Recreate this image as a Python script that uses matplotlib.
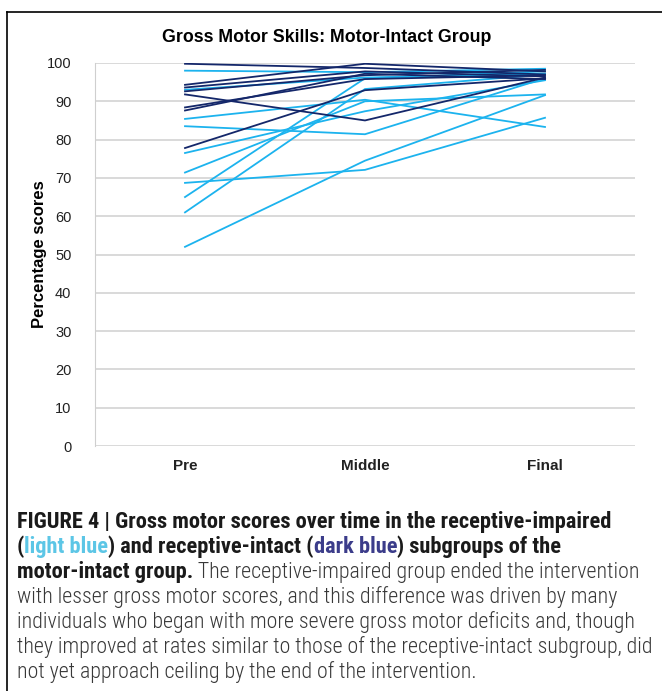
import matplotlib
matplotlib.use('Agg')
import matplotlib.pyplot as plt
from matplotlib import font_manager
from matplotlib.lines import Line2D

stages = ['Pre', 'Middle', 'Final']

# receptive-impaired subgroup (light blue), Pre / Middle / Final
light_scores = [
    [98.0, 97.6, 98.5],
    [93.0, 96.2, 97.2],
    [85.4, 90.4, 83.3],
    [83.5, 81.4, 96.0],
    [76.5, 87.4, 95.5],
    [71.4, 90.0, 91.8],
    [68.7, 72.1, 85.7],
    [65.0, 96.0, 97.8],
    [61.0, 93.2, 97.0],
    [52.0, 74.5, 91.6],
]
# receptive-intact subgroup (dark blue)
dark_scores = [
    [99.8, 98.7, 97.0],
    [94.3, 99.8, 97.8],
    [93.6, 97.8, 96.5],
    [92.6, 96.8, 98.2],
    [91.8, 85.0, 96.2],
    [88.4, 95.8, 96.8],
    [87.6, 97.2, 95.8],
    [77.8, 92.9, 96.0],
]

W, H = 662, 691
fig = plt.figure(figsize=(W / 100, H / 100), dpi=100)
ax = fig.add_axes([95 / W, 1 - 446 / H, 540 / W, 383 / H])

x = range(len(stages))
for row in light_scores:
    ax.plot(x, row, color='#1CB3EE', lw=1.3, solid_joinstyle='miter')
for row in dark_scores:
    ax.plot(x, row, color='#14276A', lw=1.3, solid_joinstyle='miter')

ax.set_xlim(-0.5, 2.5)
ax.set_ylim(0, 100)
ax.set_yticks(range(0, 101, 10))
ax.set_xticks(list(x))
ax.set_xticklabels(stages, fontweight='bold')
ax.yaxis.grid(True, color='#CFCFCF', lw=1.1)
ax.set_axisbelow(True)
for s in ['top', 'right', 'bottom']:
    ax.spines[s].set_visible(False)
ax.spines['left'].set_color('#CFCFCF')
ax.tick_params(axis='y', length=0, pad=17, labelsize=10.5, labelcolor='#222222')
ax.tick_params(axis='x', length=0, pad=9, labelsize=11, labelcolor='#222222')
for t in ax.get_xticklabels() + ax.get_yticklabels():
    t.set_family('Liberation Sans')
ax.set_ylabel('Percentage scores', fontweight='bold', fontsize=12,
              family='Liberation Sans')
ax.yaxis.set_label_coords(-48 / 540, 0.5)

fig.text(327 / W, 1 - 38 / H, 'Gross Motor Skills: Motor-Intact Group',
         ha='center', va='center', fontweight='bold', fontsize=12.8,
         family='Liberation Sans')

# frame around the figure panel
fig.add_artist(Line2D([7 / W, 7 / W], [0, 1 - 12 / H], color='black', lw=1.2))
fig.add_artist(Line2D([7 / W, 1], [1 - 12 / H, 1 - 12 / H], color='black', lw=1.2))

# caption
names = {f.name for f in font_manager.fontManager.ttflist}
cap_font = 'Liberation Sans'
for cand in ['Liberation Sans Narrow', 'Roboto Condensed', 'Roboto']:
    if cand in names:
        cap_font = cand
        break
reg_weight = 'light' if cap_font.startswith('Roboto') else 'normal'
renderer = fig.canvas.get_renderer()


def fit_size(txt, weight, target):
    t = fig.text(0, 0, txt, fontsize=12, fontweight=weight, family=cap_font)
    w = t.get_window_extent(renderer).width
    t.remove()
    return 12 * target / w


bold_size = fit_size('FIGURE 4 | Gross motor scores over time in the receptive-impaired',
                     'bold', 598)
reg_size = fit_size('they improved at rates similar to those of the receptive-intact subgroup, did',
                    reg_weight, 635)

BOLD, REG = '#1A1A1A', '#383838'
caption = [
    [('FIGURE 4 | Gross motor scores over time in the receptive-impaired', 'bold', BOLD)],
    [('(', 'bold', BOLD), ('light blue', 'bold', '#5CC6E6'),
     (') and receptive-intact (', 'bold', BOLD), ('dark blue', 'bold', '#3B3C8A'),
     (') subgroups of the', 'bold', BOLD)],
    [('motor-intact group.', 'bold', BOLD),
     (' The receptive-impaired group ended the intervention', reg_weight, REG)],
    [('with lesser gross motor scores, and this difference was driven by many', reg_weight, REG)],
    [('individuals who began with more severe gross motor deficits and, though', reg_weight, REG)],
    [('they improved at rates similar to those of the receptive-intact subgroup, did', reg_weight, REG)],
    [('not yet approach ceiling by the end of the intervention.', reg_weight, REG)],
]

y0 = 533
for i, pieces in enumerate(caption):
    prev = None
    for txt, weight, color in pieces:
        size = bold_size if weight == 'bold' else reg_size
        kw = dict(fontsize=size, fontweight=weight, color=color, family=cap_font, va='bottom')
        if prev is None:
            prev = fig.text(17 / W, 1 - (y0 + 25 * i) / H, txt, ha='left', **kw)
        else:
            prev = ax.annotate(txt, xy=(1, 0), xycoords=prev, ha='left', **kw)

fig.savefig('out.png', dpi=100)
